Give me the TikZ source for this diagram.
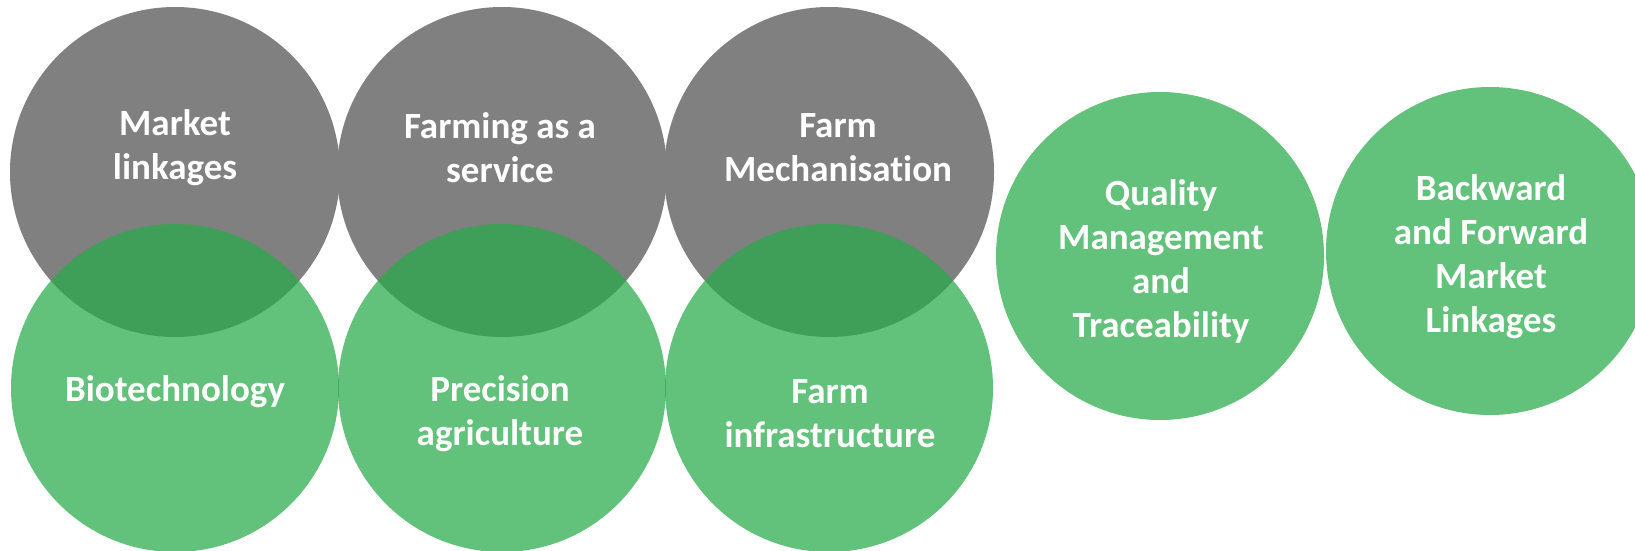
\documentclass[tikz,border=0pt]{standalone}
\usepackage{fontspec}
\setmainfont{Carlito}[Ligatures=NoCommon]
\definecolor{cgray}{RGB}{128,128,128}
\definecolor{cgreen}{RGB}{40,170,73}
\begin{document}
\begin{tikzpicture}[x=1pt,y=-1pt,
  graycirc/.style={circle,fill=cgray,draw=none,minimum size=330pt,inner sep=0pt},
  greencirc/.style={circle,fill=cgreen,fill opacity=0.73,draw=none,minimum size=328pt,inner sep=0pt},
  lbl/.style={text=white,align=center,font=\fontsize{37}{44}\selectfont\bfseries,inner sep=0pt}]
\useasboundingbox (0,0) rectangle (1635,551);
% gray circles
\node[graycirc] (g1) at (175,172) {};
\node[graycirc] (g2) at (502,172) {};
\node[graycirc] (g3) at (829,172) {};
% green circles
\node[greencirc] (b1) at (175,388) {};
\node[greencirc] (b2) at (502,388) {};
\node[greencirc] (b3) at (829,388) {};
\node[greencirc] (q) at (1160,256) {};
\node[greencirc] (bf) at (1490,251) {};
% labels
\node[lbl] (t1) at (175,148) {Market\\linkages};
\node[lbl] (t2) at (500,148) {Farming as a\\service};
\node[lbl] (t3) at (838,148) {Farm\\Mechanisation};
\node[lbl] (t4) at (175,392) {Biotechnology};
\node[lbl] (t5) at (500,414) {Precision\\agriculture};
\node[lbl] (t6) at (830,414) {Farm\\infrastructure};
\node[lbl] (t7) at (1161,261) {Quality\\Management\\and\\Traceability};
\node[lbl] (t8) at (1491,257) {Backward\\and Forward\\Market\\Linkages};
\end{tikzpicture}
\end{document}
